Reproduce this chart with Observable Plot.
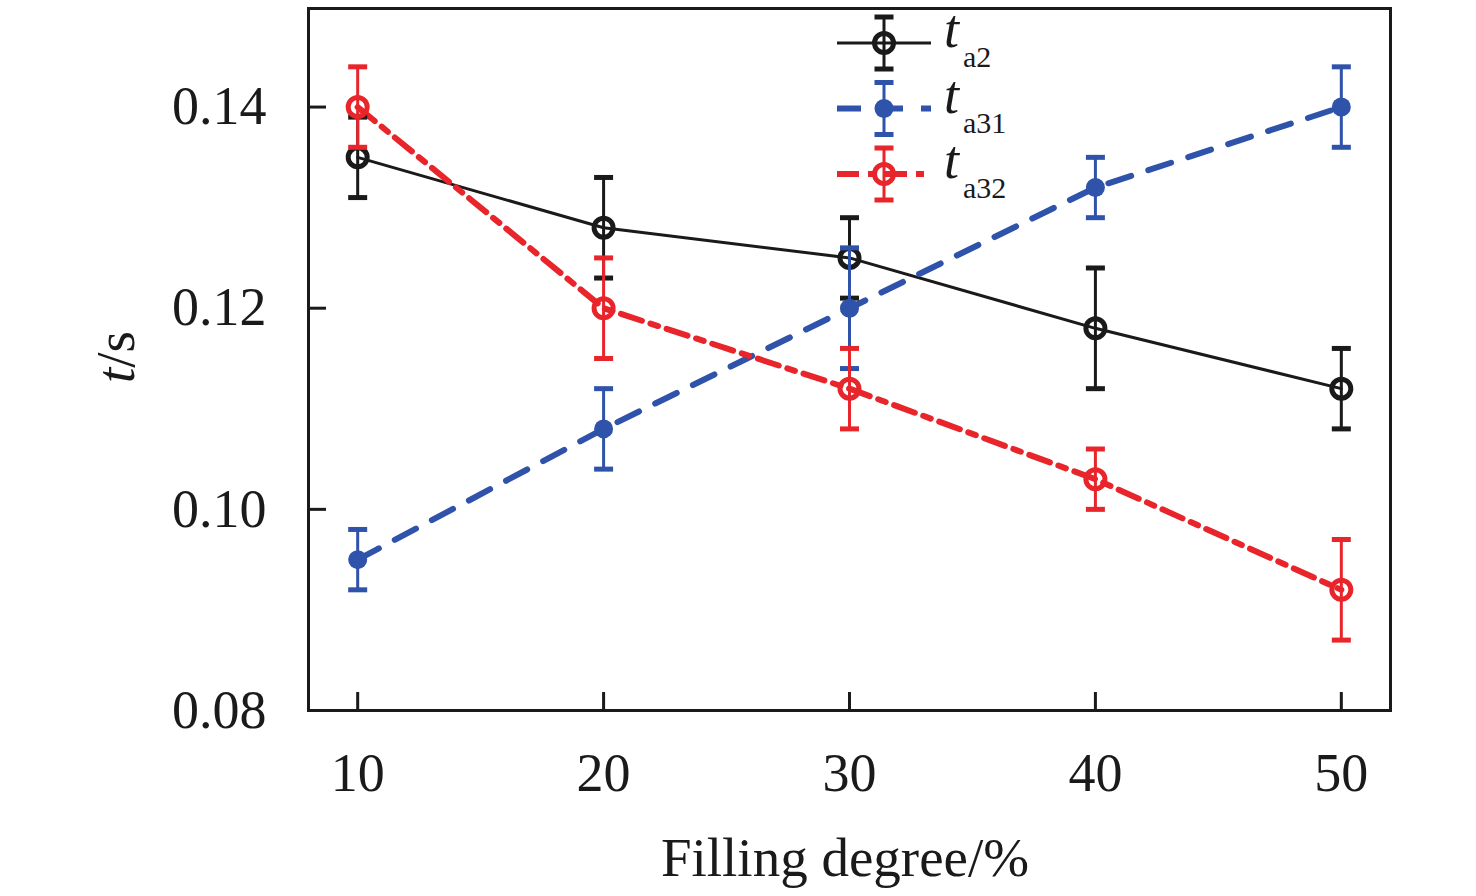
<!DOCTYPE html>
<html>
<head>
<meta charset="utf-8">
<script src="https://cdn.jsdelivr.net/npm/d3@7"></script>
<script src="https://cdn.jsdelivr.net/npm/@observablehq/plot@0.6"></script>
<style>
  html, body { margin: 0; padding: 0; background: #fff; }
  #chart { position: relative; width: 1476px; height: 896px; }
</style>
</head>
<body>
<div id="chart"></div>
<script>
// Data
const filling = [10, 20, 30, 40, 50];
const ta2 = [0.135, 0.128, 0.125, 0.118, 0.112];
const ta2Err = [0.004, 0.005, 0.004, 0.006, 0.004];
const ta31 = [0.095, 0.108, 0.120, 0.132, 0.140];
const ta31Err = [0.003, 0.004, 0.006, 0.003, 0.004];
const ta32 = [0.140, 0.120, 0.112, 0.103, 0.092];
const ta32Err = [0.004, 0.005, 0.004, 0.003, 0.005];
const xTicks = [10, 20, 30, 40, 50];
const yTicks = [0.08, 0.10, 0.12, 0.14];

const series = [
  {key: "a2", vals: ta2, err: ta2Err, color: "#1a1a1a", width: 3, dash: null, filled: false},
  {key: "a31", vals: ta31, err: ta31Err, color: "#2f52aa", width: 6, dash: "24,18", filled: true},
  {key: "a32", vals: ta32, err: ta32Err, color: "#e8252b", width: 6, dash: "22,9,8,9", filled: false}
];

const rows = series.flatMap(s => filling.map((x, i) => ({
  series: s.key, x, y: s.vals[i], lo: s.vals[i] - s.err[i], hi: s.vals[i] + s.err[i]
})));

// horizontal cap symbol for error bars
const capSymbol = {
  draw(ctx, size) {
    const w = Math.sqrt(size / Math.PI);
    const h = 2.5;
    ctx.moveTo(-w, -h); ctx.lineTo(w, -h); ctx.lineTo(w, h); ctx.lineTo(-w, h); ctx.closePath();
  }
};

const font = "'Liberation Serif', 'Times New Roman', serif";

const marks = [];
for (const s of series) {
  const d = rows.filter(r => r.series === s.key);
  marks.push(Plot.line(d, {x: "x", y: "y", stroke: s.color, strokeWidth: s.width, strokeDasharray: s.dash}));
}
for (const s of series) {
  const d = rows.filter(r => r.series === s.key);
  marks.push(Plot.ruleX(d, {x: "x", y1: "lo", y2: "hi", stroke: s.color, strokeWidth: 3}));
  marks.push(Plot.dot(d, {x: "x", y: "lo", symbol: capSymbol, r: 9.5, fill: s.color, stroke: null}));
  marks.push(Plot.dot(d, {x: "x", y: "hi", symbol: capSymbol, r: 9.5, fill: s.color, stroke: null}));
  marks.push(s.filled
    ? Plot.dot(d, {x: "x", y: "y", r: 9.5, fill: s.color, stroke: null})
    : Plot.dot(d, {x: "x", y: "y", r: 9.5, fill: "none", stroke: s.color, strokeWidth: 5}));
}

const plot = Plot.plot({
  width: 1476,
  height: 896,
  marginLeft: 308,
  marginRight: 86,
  marginTop: 8,
  marginBottom: 186,
  style: {fontFamily: font, fontSize: "54px", color: "#1a1a1a", background: "#fff"},
  x: {domain: [8, 52]},
  y: {domain: [0.08, 0.1498]},
  marks: [
    Plot.axisX({ticks: xTicks, tickSize: -18, tickPadding: 60, label: null, strokeWidth: 3, fontSize: 54}),
    Plot.axisY({ticks: yTicks, tickSize: -18, tickPadding: 60, label: null, strokeWidth: 3, tickFormat: d3.format(".2f"), fontSize: 54}),
    ...marks,
    Plot.frame({stroke: "#1a1a1a", strokeWidth: 3})
  ]
});
document.getElementById("chart").appendChild(plot);

// Axis titles and legend
const svg = d3.select(plot);
svg.append("text")
  .attr("x", 845).attr("y", 876)
  .attr("text-anchor", "middle")
  .attr("font-family", font).attr("font-size", 55).attr("fill", "#1a1a1a")
  .text("Filling degree/%");

const yl = svg.append("text")
  .attr("transform", "translate(134,357) rotate(-90)")
  .attr("text-anchor", "middle")
  .attr("font-family", font).attr("font-size", 55).attr("fill", "#1a1a1a");
yl.append("tspan").attr("font-style", "italic").text("t");
yl.append("tspan").text("/s");

const lg = svg.append("g");
series.forEach((s, i) => {
  const cy = 43 + i * 65.5;
  const g = lg.append("g");
  g.append("line").attr("x1", 837).attr("x2", 931).attr("y1", cy).attr("y2", cy)
    .attr("stroke", s.color).attr("stroke-width", s.width).attr("stroke-dasharray", s.dash);
  g.append("line").attr("x1", 884).attr("x2", 884).attr("y1", cy - 26).attr("y2", cy + 26)
    .attr("stroke", s.color).attr("stroke-width", 3);
  [cy - 26, cy + 26].forEach(yy => g.append("rect")
    .attr("x", 874.5).attr("y", yy - 2.5).attr("width", 19).attr("height", 5).attr("fill", s.color));
  g.append("circle").attr("cx", 884).attr("cy", cy).attr("r", 9.5)
    .attr("fill", s.filled ? s.color : "none")
    .attr("stroke", s.filled ? "none" : s.color).attr("stroke-width", 5);
  const t = g.append("text").attr("x", 944).attr("y", cy + 4)
    .attr("text-anchor", "start")
    .attr("font-family", font).attr("font-size", 54).attr("fill", "#1a1a1a");
  t.append("tspan").attr("font-style", "italic").text("t");
  t.append("tspan").attr("font-size", 30).attr("dx", 4).attr("dy", 20).text(s.key);
});
</script>
</body>
</html>
